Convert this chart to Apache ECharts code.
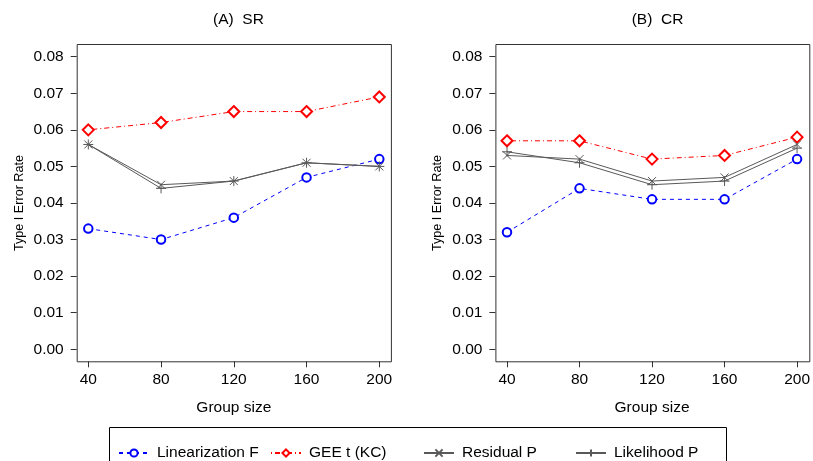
<!DOCTYPE html>
<html>
<head>
<meta charset="utf-8">
<script src="https://cdn.jsdelivr.net/npm/echarts@6/dist/echarts.min.js"></script>
<style>
  html, body { margin: 0; padding: 0; background: #fff; }
  #chart { width: 813px; height: 461px; }
</style>
</head>
<body>
<div id="chart"></div>
<script>
// Group sizes on the x axis
const groupSizes = [40, 80, 120, 160, 200];

// Panel (A) SR
const srLinearizationF = [0.033, 0.030, 0.036, 0.047, 0.052];
const srGeeT = [0.060, 0.062, 0.065, 0.065, 0.069];
const srResidualP = [0.056, 0.045, 0.046, 0.051, 0.050];
const srLikelihoodP = [0.056, 0.044, 0.046, 0.051, 0.050];

// Panel (B) CR
const crLinearizationF = [0.032, 0.044, 0.041, 0.041, 0.052];
const crGeeT = [0.057, 0.057, 0.052, 0.053, 0.058];
const crResidualP = [0.053, 0.052, 0.046, 0.047, 0.056];
const crLikelihoodP = [0.054, 0.051, 0.045, 0.046, 0.055];

const panelTitles = ['(A)  SR', '(B)  CR'];
const seriesNames = ['Linearization F', 'GEE t (KC)', 'Residual P', 'Likelihood P'];

const FONT = '"Liberation Sans", Arial, Helvetica, sans-serif';
const GRAY = '#595959';
const AXIS = '#333';
const CROSS = 'path://M0,0L10,10M10,0L0,10';
const PLUS = 'path://M5,0L5,10M0,5L10,5';

const pairs = vals => groupSizes.map((g, i) => [g, vals[i]]);

const styles = [
  { color: '#0000ff', symbol: 'emptyCircle', size: 8.5, dash: [4, 4] },
  { color: '#ff0000', symbol: 'emptyDiamond', size: 11, dash: [1, 3, 5, 3] },
  { color: GRAY, symbol: CROSS, size: 8, dash: 'solid' },
  { color: GRAY, symbol: PLUS, size: 10, dash: 'solid' }
];

function makeSeries(name, vals, idx, style) {
  return {
    type: 'line',
    name: name,
    xAxisIndex: idx,
    yAxisIndex: idx,
    data: pairs(vals),
    symbol: style.symbol,
    symbolSize: style.size,
    showSymbol: true,
    clip: false,
    lineStyle: { color: style.color, width: 1, type: style.dash },
    itemStyle: { color: style.color, borderColor: style.color, borderWidth: 1 },
    emphasis: { disabled: true },
    z: 3
  };
}

const panels = [
  [srLinearizationF, srGeeT, srResidualP, srLikelihoodP],
  [crLinearizationF, crGeeT, crResidualP, crLikelihoodP]
];

const series = [];
panels.forEach((p, idx) => {
  p.forEach((vals, k) => series.push(makeSeries(seriesNames[k], vals, idx, styles[k])));
});

// Plotting area spans the tick range; the frame sits a little outside it
const X_PAD = 11.6;
const Y_PAD = 12;
const grids = [
  { left: 88.3, top: 56.7, width: 291, height: 292.6 },
  { left: 507, top: 56.7, width: 290.7, height: 292.6 }
];

const xAxes = [0, 1].map(i => ({
  type: 'value',
  gridIndex: i,
  position: 'bottom',
  offset: Y_PAD,
  min: 40,
  max: 200,
  interval: 40,
  name: 'Group size',
  nameLocation: 'middle',
  nameGap: 38,
  nameTextStyle: { fontFamily: FONT, fontSize: 15.5, color: '#000' },
  axisLine: { show: false, onZero: false },
  splitLine: { show: false },
  axisTick: { show: true, inside: false, length: 6, lineStyle: { color: AXIS, width: 1 } },
  axisLabel: { show: true, margin: 10, fontFamily: FONT, fontSize: 15.5, color: '#000' }
}));

const yAxes = [0, 1].map(i => ({
  type: 'value',
  gridIndex: i,
  position: 'left',
  offset: X_PAD,
  min: 0,
  max: 0.08,
  interval: 0.01,
  name: 'Type I Error Rate',
  nameLocation: 'middle',
  nameGap: 51,
  nameRotate: 90,
  nameTextStyle: { fontFamily: FONT, fontSize: 12.6, color: '#000' },
  axisLine: { show: false, onZero: false },
  splitLine: { show: false },
  axisTick: { show: true, inside: false, length: 6, lineStyle: { color: AXIS, width: 1 } },
  axisLabel: {
    show: true, margin: 13, fontFamily: FONT, fontSize: 15.5, color: '#000',
    formatter: v => v.toFixed(2)
  }
}));

const titles = panelTitles.map((t, i) => ({
  text: t,
  left: i === 0 ? 233.5 : 652.5,
  top: 7,
  textAlign: 'center',
  textStyle: { fontFamily: FONT, fontSize: 15.5, fontWeight: 'normal', color: '#000' }
}));

// One legend block per entry so each sits at its own spot in the frame
const legendLefts = [113, 265, 418, 570];
const legends = seriesNames.map((n, k) => ({
  data: [n],
  left: legendLefts[k],
  top: 440,
  orient: 'horizontal',
  itemWidth: 30,
  itemHeight: 9,
  selectedMode: false,
  textStyle: { fontFamily: FONT, fontSize: 15.5, color: '#000', padding: [0, 0, 0, 3] }
}));

// Panel frames and the legend frame
const frames = grids.map(g => ({
  type: 'rect',
  shape: { x: g.left - X_PAD + 0.5, y: g.top - 12.7 + 0.5, width: g.width + 2 * X_PAD, height: g.height + 12.7 + Y_PAD },
  style: { fill: 'none', stroke: AXIS, lineWidth: 1 },
  silent: true,
  z: 1
}));
frames.push({
  type: 'rect',
  shape: { x: 109.5, y: 427.5, width: 617, height: 60 },
  style: { fill: 'none', stroke: '#000', lineWidth: 1 },
  silent: true
});

const chart = echarts.init(document.getElementById('chart'), null, { renderer: 'canvas' });
chart.setOption({
  animation: false,
  backgroundColor: '#fff',
  title: titles,
  grid: grids,
  xAxis: xAxes,
  yAxis: yAxes,
  legend: legends,
  series: series,
  graphic: frames
});
</script>
</body>
</html>
